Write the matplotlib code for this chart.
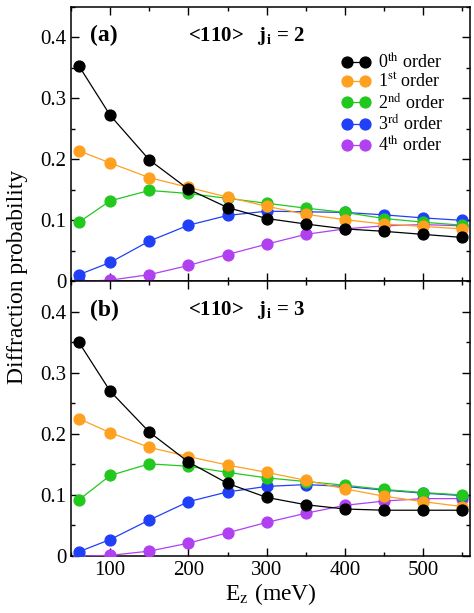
import numpy as np
import matplotlib
matplotlib.use("Agg")
import matplotlib.pyplot as plt
from matplotlib.ticker import MultipleLocator

plt.rcParams['font.family'] = ['Liberation Serif', 'DejaVu Serif']
plt.rcParams['mathtext.fontset'] = 'stix'

# Incident energy (meV)
energy = [60, 100, 150, 200, 250, 300, 350, 400, 450, 500, 550]

# panel (a): <110>, j_i = 2
a_order0 = [0.353, 0.272, 0.199, 0.151, 0.121, 0.103, 0.094, 0.086, 0.082, 0.077, 0.072]
a_order1 = [0.214, 0.194, 0.170, 0.154, 0.138, 0.123, 0.110, 0.101, 0.094, 0.090, 0.086]
a_order2 = [0.097, 0.132, 0.149, 0.144, 0.136, 0.128, 0.120, 0.113, 0.103, 0.097, 0.092]
a_order3 = [0.011, 0.031, 0.066, 0.092, 0.108, 0.115, 0.114, 0.113, 0.109, 0.104, 0.100]
a_order4 = [0.000, 0.002, 0.011, 0.026, 0.044, 0.061, 0.077, 0.086, 0.091, 0.093, 0.091]

# panel (b): <110>, j_i = 3
b_order0 = [0.350, 0.270, 0.203, 0.154, 0.119, 0.096, 0.084, 0.077, 0.075, 0.075, 0.075]
b_order1 = [0.225, 0.202, 0.178, 0.163, 0.149, 0.137, 0.124, 0.110, 0.098, 0.089, 0.081]
b_order2 = [0.092, 0.132, 0.151, 0.147, 0.137, 0.128, 0.122, 0.116, 0.109, 0.104, 0.100]
b_order3 = [0.007, 0.027, 0.059, 0.089, 0.105, 0.114, 0.117, 0.114, 0.108, 0.103, 0.099]
b_order4 = [0.000, 0.001, 0.008, 0.021, 0.038, 0.055, 0.070, 0.083, 0.090, 0.094, 0.094]

labels = [r'0$^{\rm th}$ order', r'1$^{\rm st}$ order', r'2$^{\rm nd}$ order',
          r'3$^{\rm rd}$ order', r'4$^{\rm th}$ order']
colors = ['black', '#ffa01e', '#22c81e', '#2040f8', '#b040f0']

panels = [
    ('(a)', r'<110>   $\mathbf{j_i}$ = 2', [a_order0, a_order1, a_order2, a_order3, a_order4]),
    ('(b)', r'<110>   $\mathbf{j_i}$ = 3', [b_order0, b_order1, b_order2, b_order3, b_order4]),
]

fig, axes = plt.subplots(2, 1, sharex=True, figsize=(4.74, 6.13), dpi=100)
fig.subplots_adjust(left=0.150, right=0.9916, top=0.989, bottom=0.093, hspace=0)

for ax, (tag, title, series) in zip(axes, panels):
    # draw higher orders first so the 0th order sits on top
    for i in range(len(series) - 1, -1, -1):
        ax.plot(energy, series[i], '-o', color=colors[i], lw=0.9, ms=7.8,
                mec=colors[i], label=labels[i], zorder=3 + (4 - i))
    ax.set_xlim(50, 560)
    ax.set_ylim(0, 0.45)
    ax.xaxis.set_major_locator(MultipleLocator(100))
    ax.xaxis.set_minor_locator(MultipleLocator(50))
    ax.yaxis.set_major_locator(MultipleLocator(0.1))
    ax.yaxis.set_minor_locator(MultipleLocator(0.05))
    ax.set_yticks([0, 0.1, 0.2, 0.3, 0.4])
    ax.set_yticklabels(['0', '0.1', '0.2', '0.3', '0.4'])
    ax.tick_params(which='both', direction='in', top=True, right=True, width=1.0)
    ax.tick_params(which='major', length=6, labelsize=15)
    ax.tick_params(which='minor', length=3)
    for sp in ax.spines.values():
        sp.set_linewidth(1.1)
    ax.text(0.048, 0.895, tag, transform=ax.transAxes, fontsize=17,
            fontweight='bold', va='center', ha='left')
    ax.text(0.44, 0.895, title, transform=ax.transAxes, fontsize=15,
            fontweight='bold', va='center', ha='center')

handles, labs = axes[0].get_legend_handles_labels()
order = [labs.index(l) for l in labels]
axes[0].legend([handles[k] for k in order], labels, loc='upper right',
               bbox_to_anchor=(0.968, 0.88), frameon=False, numpoints=2,
               handlelength=1.6, handletextpad=0.4, labelspacing=0.08,
               fontsize=13, borderaxespad=0.3)

axes[1].set_xticks([100, 200, 300, 400, 500])
axes[1].set_xlabel(r'E$_{\rm z}$ (meV)', fontsize=17, labelpad=1)
fig.text(0.036, 0.548, 'Diffraction probability', rotation=90,
         fontsize=17, va='center', ha='center')

fig.savefig('out.png', dpi=100)
